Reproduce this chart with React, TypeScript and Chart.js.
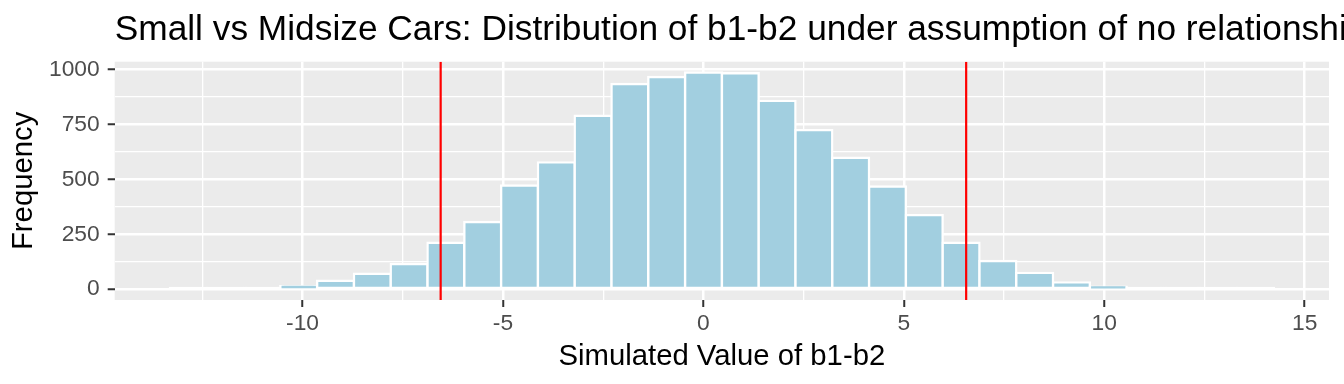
import React, { useEffect, useRef } from "react";
import { Chart, registerables } from "chart.js";

Chart.register(...registerables);

// Histogram bin centres (30 bins, width ~0.918)
const BIN_CENTERS = [
  -12.85, -11.932, -11.014, -10.096, -9.178, -8.26, -7.342, -6.424, -5.506, -4.588,
  -3.67, -2.752, -1.834, -0.916, 0.002, 0.92, 1.838, 2.756, 3.674, 4.592,
  5.51, 6.428, 7.346, 8.264, 9.182, 10.1, 11.018, 11.936, 12.854, 13.772,
];
// Frequencies per bin
const COUNTS = [
  2, 4, 5, 14, 38, 70, 114, 211, 306, 472,
  577, 789, 934, 966, 986, 983, 857, 724, 598, 467,
  337, 211, 128, 74, 31, 11, 6, 5, 3, 2,
];
// Red reference lines
const CRITICAL_VALUES = [-6.555, 6.555];

const X_MAJOR = [-10, -5, 0, 5, 10, 15];
const X_MINOR = [-12.5, -7.5, -2.5, 2.5, 7.5, 12.5];
const Y_MAJOR = [0, 250, 500, 750, 1000];
const Y_MINOR = [125, 375, 625, 875];
const X_LIMITS = [-14.687, 15.607];
const Y_LIMITS = [-49.3, 1035.3];

const TITLE = "Small vs Midsize Cars: Distribution of b1-b2 under assumption of no relationship";
const X_TITLE = "Simulated Value of b1-b2";
const Y_TITLE = "Frequency";

const FONT = '"Liberation Sans", Arial, Helvetica, sans-serif';
const BAR_FILL = "#A2CFE0";

const panelPlugin = {
  id: "panelBg",
  beforeDraw(chart: any) {
    const { ctx, chartArea } = chart;
    ctx.save();
    ctx.fillStyle = "#EBEBEB";
    ctx.fillRect(chartArea.left, chartArea.top, chartArea.right - chartArea.left, chartArea.bottom - chartArea.top);
    ctx.restore();
  },
};

const titlePlugin = {
  id: "ggTitle",
  afterDraw(chart: any) {
    const { ctx, chartArea } = chart;
    ctx.save();
    ctx.font = `35.3px ${FONT}`;
    ctx.fillStyle = "#000000";
    ctx.textAlign = "left";
    ctx.textBaseline = "alphabetic";
    ctx.fillText(TITLE, chartArea.left, 40);
    ctx.restore();
  },
};

export default function App() {
  const ref = useRef<HTMLCanvasElement | null>(null);

  useEffect(() => {
    document.body.style.margin = "0";
    const canvas = ref.current;
    if (!canvas) return;

    const isXMajor = (v: number) => X_MAJOR.includes(v);
    const isYMajor = (v: number) => Y_MAJOR.includes(v);

    // a bar thinner than its white outline shows only the outline (as in ggplot)
    const barFill = (c: any) => {
      const y = c.chart.scales.y;
      const v = c.raw ? c.raw.y : 0;
      if (!y) return BAR_FILL;
      const h = y.getPixelForValue(0) - y.getPixelForValue(v);
      return h < 2 ? "#FFFFFF" : BAR_FILL;
    };

    const chart = new Chart(canvas, {
      type: "bar",
      data: {
        datasets: [
          {
            type: "bar",
            data: BIN_CENTERS.map((x, i) => ({ x, y: COUNTS[i] })),
            backgroundColor: barFill,
            borderColor: "#FFFFFF",
            borderWidth: 2.4,
            borderSkipped: false,
            inflateAmount: 1.2,
            barPercentage: 1,
            categoryPercentage: 1,
            order: 2,
          } as any,
          ...CRITICAL_VALUES.map((v) => ({
            type: "line",
            data: [
              { x: v, y: Y_LIMITS[0] },
              { x: v, y: Y_LIMITS[1] },
            ],
            borderColor: "#FF0000",
            borderWidth: 2.2,
            pointRadius: 0,
            fill: false,
            order: 1,
          } as any)),
        ],
      },
      options: {
        responsive: false,
        animation: false,
        devicePixelRatio: 1,
        layout: { padding: { top: 61.7, right: 15, left: 0, bottom: 0 } },
        plugins: {
          legend: { display: false },
          tooltip: { enabled: false },
          title: { display: false },
        },
        scales: {
          x: {
            type: "linear",
            min: X_LIMITS[0],
            max: X_LIMITS[1],
            offset: false,
            afterBuildTicks: (s: any) => {
              s.ticks = [...X_MINOR, ...X_MAJOR].sort((a, b) => a - b).map((value) => ({ value }));
            },
            afterFit: (s: any) => {
              s.height = 84;
            },
            ticks: {
              autoSkip: false,
              maxRotation: 0,
              minRotation: 0,
              padding: 3,
              color: "#4D4D4D",
              font: { family: FONT, size: 22.8 },
              callback: (v: any) => (isXMajor(Number(v)) ? String(v) : ""),
            },
            grid: {
              offset: false,
              color: "#FFFFFF",
              lineWidth: (c: any) => (c.tick && isXMajor(c.tick.value) ? 2.5 : 1.3),
              drawTicks: true,
              tickLength: 7,
              tickWidth: 2,
              tickColor: (c: any) => (c.tick && isXMajor(c.tick.value) ? "#333333" : "rgba(0,0,0,0)"),
            },
            border: { display: false },
            title: {
              display: true,
              text: X_TITLE,
              color: "#000000",
              font: { family: FONT, size: 29.3 },
              padding: { top: 0, bottom: 10 },
            },
          },
          y: {
            type: "linear",
            min: Y_LIMITS[0],
            max: Y_LIMITS[1],
            afterBuildTicks: (s: any) => {
              s.ticks = [...Y_MAJOR, ...Y_MINOR].sort((a, b) => a - b).map((value) => ({ value }));
            },
            afterFit: (s: any) => {
              s.width = 114.7;
            },
            ticks: {
              autoSkip: false,
              padding: 8,
              color: "#4D4D4D",
              font: { family: FONT, size: 22.8 },
              callback: (v: any) => (isYMajor(Number(v)) ? String(v) : ""),
            },
            grid: {
              color: "#FFFFFF",
              lineWidth: (c: any) => (c.tick && isYMajor(c.tick.value) ? 2.5 : 1.3),
              drawTicks: true,
              tickLength: 7,
              tickWidth: 2,
              tickColor: (c: any) => (c.tick && isYMajor(c.tick.value) ? "#333333" : "rgba(0,0,0,0)"),
            },
            border: { display: false },
            title: {
              display: true,
              text: Y_TITLE,
              color: "#000000",
              font: { family: FONT, size: 29.3 },
              padding: { top: 6, bottom: 0 },
            },
          },
        },
      } as any,
      plugins: [panelPlugin, titlePlugin],
    });

    return () => chart.destroy();
  }, []);

  return (
    <div style={{ width: 1344, height: 384, position: "relative", background: "#FFFFFF" }}>
      <canvas ref={ref} width={1344} height={384} style={{ display: "block", width: 1344, height: 384 }} />
    </div>
  );
}
